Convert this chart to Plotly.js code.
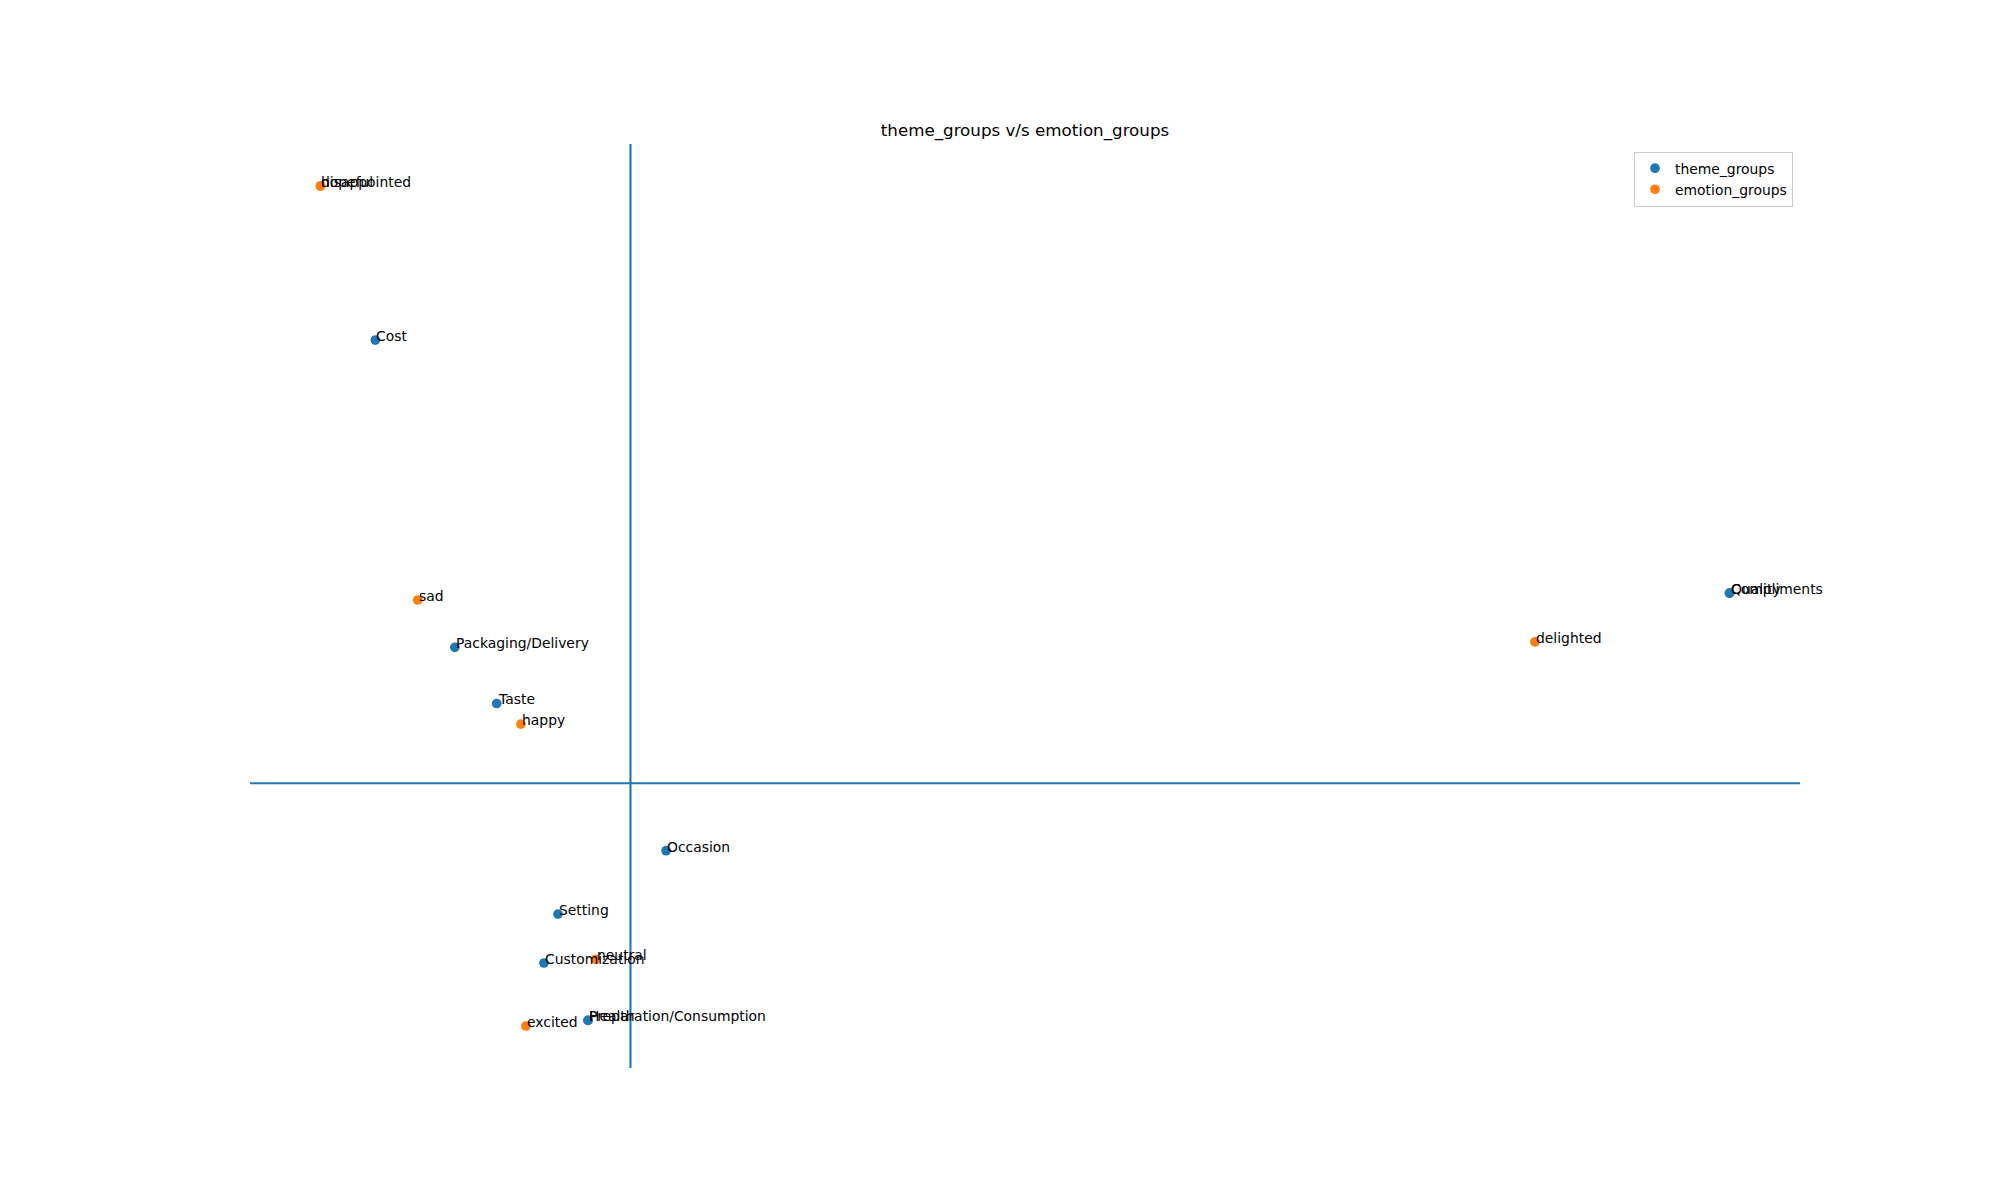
<!DOCTYPE html>
<html>
<head>
<meta charset="utf-8">
<script src="https://cdn.plot.ly/plotly-3.0.1.min.js"></script>
<style>html,body{margin:0;padding:0;background:#fff;}#chart{width:2000px;height:1200px;}</style>
</head>
<body>
<div id="chart"></div>
<script>
// theme_groups
var themeLabels = ["Cost", "Quality", "Compliments", "Packaging/Delivery", "Taste", "Occasion", "Setting", "Customization", "Health", "Preparation/Consumption"];
var themeX = [-0.637, 2.744, 2.744, -0.4385, -0.334, 0.089, -0.181, -0.216, -0.106, -0.106];
var themeY = [1.105, 0.474, 0.474, 0.339, 0.199, -0.168, -0.326, -0.448, -0.591, -0.591];

// emotion_groups
var emotionLabels = ["hopeful", "disappointed", "sad", "delighted", "happy", "neutral", "excited"];
var emotionX = [-0.774, -0.774, -0.531, 2.258, -0.2735, -0.087, -0.261];
var emotionY = [1.489, 1.489, 0.457, 0.3525, 0.1475, -0.439, -0.605];

var C0 = "#1f77b4", C1 = "#ff7f0e";
var FONT = "DejaVu Sans, sans-serif";

function padRange(a) {
  var mn = Math.min.apply(null, a), mx = Math.max.apply(null, a);
  var m = (mx - mn) * 0.05;
  return [mn - m, mx + m];
}
var xr = padRange(themeX.concat(emotionX));
var yr = padRange(themeY.concat(emotionY));

var traces = [
  {x: themeX, y: themeY, mode: "markers", type: "scatter", name: "theme_groups",
   marker: {color: C0, size: 9.7}, hoverinfo: "none"},
  {x: emotionX, y: emotionY, mode: "markers", type: "scatter", name: "emotion_groups",
   marker: {color: C1, size: 9.7}, hoverinfo: "none"}
];

var annotations = [];
function addLabels(xs, ys, labels) {
  for (var i = 0; i < labels.length; i++) {
    annotations.push({x: xs[i], y: ys[i], xref: "x", yref: "y", text: labels[i],
      showarrow: false, xanchor: "left", yanchor: "bottom", xshift: -1, yshift: -6,
      font: {family: FONT, size: 13.9, color: "#000"}});
  }
}
addLabels(themeX, themeY, themeLabels);
addLabels(emotionX, emotionY, emotionLabels);

var layout = {
  width: 2000, height: 1200,
  margin: {l: 250, r: 200, t: 144, b: 132, pad: 0},
  paper_bgcolor: "#fff", plot_bgcolor: "#fff",
  title: {text: "theme_groups v/s emotion_groups", x: 0.5125, xanchor: "center",
          y: 1 - 130/1200, yanchor: "middle", yref: "container",
          font: {family: FONT, size: 16.7, color: "#000"}},
  xaxis: {range: xr, showgrid: false, zeroline: false, showticklabels: false, ticks: "", showline: false},
  yaxis: {range: yr, showgrid: false, zeroline: false, showticklabels: false, ticks: "", showline: false},
  showlegend: true,
  legend: {x: 0.9955, xanchor: "right", y: 0.9917, yanchor: "top",
           bgcolor: "rgba(255,255,255,0.8)", bordercolor: "#cccccc", borderwidth: 1,
           tracegroupgap: 0,
           font: {family: FONT, size: 13.9, color: "#000"}, itemwidth: 30},
  shapes: [
    {type: "line", xref: "paper", x0: 0, x1: 1, yref: "y", y0: 0, y1: 0, line: {color: C0, width: 2.1}, layer: "below"},
    {type: "line", yref: "paper", y0: 0, y1: 1, xref: "x", x0: 0, x1: 0, line: {color: C0, width: 2.1}, layer: "below"}
  ],
  annotations: annotations,
  hovermode: false
};

Plotly.newPlot("chart", traces, layout, {displayModeBar: false, staticPlot: true});
</script>
</body>
</html>
